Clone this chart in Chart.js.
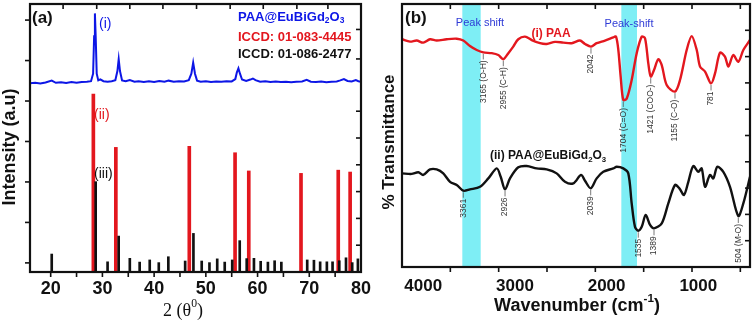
<!DOCTYPE html>
<html>
<head>
<meta charset="utf-8">
<script src="https://cdn.jsdelivr.net/npm/chart.js@4.4.1/dist/chart.umd.min.js"></script>
<style>
  html, body { margin: 0; padding: 0; background: #fff; }
  #wrap { position: relative; width: 753px; height: 323px; overflow: hidden; }
  #xrd { position: absolute; left: 0; top: 0; }
  #ftir { position: absolute; left: 378px; top: 0; }
</style>
</head>
<body>
<div id="wrap">
  <canvas id="xrd" width="378" height="323"></canvas>
  <canvas id="ftir" width="375" height="323"></canvas>
</div>
<script>
// ---- (a) XRD data ----
const xrdAngle = [16.0, 17.0, 18.0, 19.0, 20.2, 21.0, 22.0, 23.0, 24.0, 25.0, 26.0, 27.0, 27.8, 28.2, 28.4, 28.55, 28.7, 28.9,
  29.2, 29.6, 30.2, 31.0, 31.8, 32.5, 32.9, 33.15, 33.4, 33.8, 34.5, 35.3, 36.2, 37.0, 38.0, 39.0, 40.0, 41.0, 42.0, 42.8,
  43.8, 44.8, 45.8, 46.7, 47.2, 47.55, 47.9, 48.3, 49.0, 50.0, 51.0, 52.0, 53.0, 54.0, 55.0, 55.7, 56.0, 56.3, 56.6, 57.0,
  57.8, 58.6, 59.1, 59.6, 60.5, 61.5, 62.5, 63.5, 64.5, 65.5, 66.5, 67.5, 68.6, 69.5, 70.3, 71.3, 72.3, 73.3, 74.3, 75.3,
  76.0, 76.7, 77.4, 78.2, 79.0, 79.5, 80.0];
const xrdIntensity = [70.4, 70.6, 70.3, 70.7, 71.4, 70.6, 70.8, 70.5, 70.9, 70.6, 70.9, 71.0, 71.2, 74, 88, 96.5, 88, 74,
  71.5, 71.9, 71.2, 71.0, 71.2, 71.6, 75, 79.4, 75, 71.5, 71.2, 71.6, 71.0, 71.2, 70.9, 71.2, 70.9, 71.3, 71.0, 71.4,
  71.0, 71.2, 71.1, 71.6, 74, 78.1, 74, 71.4, 71.0, 71.2, 70.9, 71.1, 71.0, 71.2, 71.1, 72, 74.5, 76, 74, 71.8,
  71.3, 71.8, 72.2, 71.6, 71.0, 71.2, 70.9, 71.1, 70.9, 71.0, 70.8, 71.0, 71.1, 71.7, 71.0, 70.9, 71.1, 70.8, 71.0, 71.1,
  71.5, 72.0, 71.3, 71.1, 71.6, 71.2, 71.0];

// ICCD 01-083-4445 (red sticks)
const refRedAngle = [28.25, 32.6, 46.8, 55.65, 58.3, 68.4, 75.6, 77.9];
const refRedHeight = [66.4, 46.5, 46.9, 44.5, 37.7, 36.8, 38.0, 37.3];

// ICCD 01-086-2477 (black sticks)
const refBlackAngle = [20.2, 28.7, 31.0, 33.15, 35.3, 37.2, 39.15, 40.9, 42.75, 46.0, 47.6, 49.2, 50.7, 52.2, 53.65, 55.1,
  56.55, 57.9, 59.3, 60.6, 62.0, 63.3, 64.6, 69.6, 70.9, 72.1, 73.4, 74.5, 75.8, 77.1, 78.3, 79.4];
const refBlackHeight = [6.7, 33.7, 3.8, 13.4, 5.1, 3.7, 4.5, 3.5, 5.7, 4.1, 14.4, 4.1, 3.5, 4.9, 3.7, 4.5,
  11.7, 5.0, 5.1, 4.0, 3.7, 4.2, 3.7, 4.5, 4.4, 3.8, 3.8, 3.8, 4.2, 5.3, 3.5, 4.9];

const xrdTickLabels = [20, 30, 40, 50, 60, 70, 80];

// ---- (b) FTIR data ----
const paaWn = [4000, 3917, 3848, 3780, 3710, 3641, 3538, 3434, 3366, 3297, 3227, 3159, 3072, 3004, 2952, 2900, 2849, 2797,
  2728, 2658, 2572, 2503, 2417, 2331, 2244, 2159, 2107, 2045, 1986, 1900, 1814, 1786, 1762, 1738, 1711, 1675, 1624, 1572,
  1520, 1486, 1452, 1427, 1393, 1349, 1313, 1262, 1176, 1124, 1055, 1003, 951, 917, 865, 803, 762, 710, 659, 624, 573,
  521, 469, 400];
const paaT = [86.6, 85.7, 86.1, 85.3, 86.6, 86.1, 86.6, 86.8, 86.1, 84.0, 82.5, 81.6, 81.3, 80.6, 79.0, 81.3, 83.8, 86.6,
  87.6, 86.3, 85.1, 84.8, 85.6, 85.3, 85.1, 86.1, 84.8, 83.8, 85.1, 86.1, 87.3, 87.6, 82.5, 72.4, 63.5, 64.1, 71.1, 81.3,
  87.6, 87.0, 77.4, 72.4, 74.9, 79.0, 76.8, 69.2, 66.7, 71.1, 82.5, 87.8, 82.5, 76.2, 74.3, 69.8, 73.6, 81.5, 80.0, 76.2, 80.6,
  78.0, 82.5, 86.3];

const compWn = [4000, 3900, 3831, 3780, 3710, 3641, 3573, 3503, 3434, 3366, 3297, 3193, 3107, 3020, 2979, 2934, 2883, 2797,
  2710, 2607, 2503, 2400, 2314, 2228, 2148, 2107, 2048, 1986, 1918, 1814, 1779, 1711, 1659, 1624, 1590, 1556, 1520, 1479,
  1434, 1393, 1313, 1245, 1176, 1131, 1083, 1038, 987, 935, 900, 865, 814, 780, 738, 676, 607, 521, 469, 400];
const compT = [35.6, 35.4, 36.0, 35.0, 37.1, 37.1, 35.6, 32.4, 31.2, 29.0, 29.5, 30.5, 33.7, 37.5, 34.3, 29.5, 33.7, 37.9,
  38.4, 37.5, 37.1, 35.6, 32.4, 31.8, 35.0, 32.8, 29.9, 33.7, 36.2, 37.5, 38.1, 37.5, 35.6, 24.2, 15.3, 13.8, 15.3, 19.8,
  16.0, 14.7, 16.6, 24.2, 31.2, 29.9, 27.4, 32.4, 38.4, 36.2, 37.5, 30.5, 35.0, 33.7, 38.1, 36.2, 30.5, 19.4, 24.2, 34.3];

const paaMarkWn = [3165, 2955, 2042, 1704, 1421, 1155, 781];
const paaMarkText = ['3165 (O-H)', '2955 (C-H)', '2042', '1704 (C=O)', '1421 (COO-)', '1155 (C-O)', '781'];
const compMarkWn = [3361, 2926, 2039, 1535, 1389, 504];
const compMarkText = ['3361', '2926', '2039', '1535', '1389', '504 (M-O)'];

const shiftBandFrom = [3376, 1731];
const shiftBandTo = [3186, 1569];

const ftirTickLabels = [4000, 3000, 2000, 1000];

// ---- helpers ----
const SANS = "'Liberation Sans', Arial, sans-serif";
const SERIF = "'Liberation Serif', 'Times New Roman', serif";

function drawRich(ctx, segs, x, y, o) {
  const wt = o.weight || 'normal', fam = o.family || SANS, size = o.size;
  let total = 0;
  const parts = segs.map(s => {
    if (typeof s === 'string') s = { t: s };
    const sz = (s.sub || s.sup) ? size * 0.65 : size;
    ctx.font = wt + ' ' + sz + 'px ' + fam;
    const w = ctx.measureText(s.t).width;
    total += w;
    return { s, sz, w };
  });
  let cx = o.align === 'center' ? x - total / 2 : (o.align === 'right' ? x - total : x);
  ctx.fillStyle = o.color || '#111';
  ctx.textBaseline = 'middle';
  ctx.textAlign = 'left';
  parts.forEach(p => {
    ctx.font = wt + ' ' + p.sz + 'px ' + fam;
    const dy = p.s.sub ? size * 0.3 : (p.s.sup ? -size * 0.38 : 0);
    ctx.fillText(p.s.t, cx, y + dy);
    cx += p.w;
  });
}

function drawTexts(ctx, items) {
  items.forEach(it => {
    ctx.save();
    if (it.rotate) {
      ctx.translate(it.x, it.y);
      ctx.rotate(-Math.PI / 2);
      drawRich(ctx, it.segs, 0, 0, it);
    } else {
      drawRich(ctx, it.segs, it.x, it.y, it);
    }
    ctx.restore();
  });
}

// frame + tick marks drawn from the scales
const frameTicks = {
  id: 'frameTicks',
  afterDatasetsDraw(chart, args, opts) {
    const ctx = chart.ctx, a = chart.chartArea;
    ctx.save();
    ctx.strokeStyle = '#111';
    ctx.lineWidth = 1.6;
    (opts.marks || []).forEach(m => {
      const sc = chart.scales[m.axis];
      m.values.forEach(v => {
        const p = sc.getPixelForValue(v);
        ctx.beginPath();
        if (m.side === 'bottom') { ctx.moveTo(p, a.bottom); ctx.lineTo(p, a.bottom + m.len); }
        if (m.side === 'top') { ctx.moveTo(p, a.top); ctx.lineTo(p, a.top - m.len); }
        if (m.side === 'left') { ctx.moveTo(a.left, p); ctx.lineTo(a.left - m.len, p); }
        if (m.side === 'right') { ctx.moveTo(a.right, p); ctx.lineTo(a.right + m.len, p); }
        ctx.stroke();
      });
    });
    ctx.lineWidth = 2.2;
    ctx.strokeRect(a.left, a.top, a.right - a.left, a.bottom - a.top);
    ctx.restore();
  },
  afterDraw(chart, args, opts) {
    if (opts.texts) drawTexts(chart.ctx, opts.texts);
  }
};

// cyan "peak shift" bands
const bands = {
  id: 'bands',
  beforeDatasetsDraw(chart, args, opts) {
    if (!opts.from) return;
    const ctx = chart.ctx, a = chart.chartArea, sc = chart.scales[opts.axis];
    ctx.save();
    ctx.fillStyle = opts.color;
    opts.from.forEach((f, i) => {
      const x1 = sc.getPixelForValue(f), x2 = sc.getPixelForValue(opts.to[i]);
      ctx.fillRect(Math.min(x1, x2), a.top, Math.abs(x2 - x1), a.bottom - a.top);
    });
    ctx.restore();
  }
};

// peak labels with leader lines
const peakLabels = {
  id: 'peakLabels',
  afterDatasetsDraw(chart, args, opts) {
    if (!opts.sets) return;
    const ctx = chart.ctx;
    const xs = chart.scales.xd, ys = chart.scales.y;
    ctx.save();
    opts.sets.forEach(set => {
      const ds = chart.data.datasets[set.dataset].data;
      set.wn.forEach((w, i) => {
        let best = null;
        ds.forEach(p => {
          if (Math.abs(p.x - w) <= 35 && (best === null || p.y < best.y)) best = p;
        });
        if (!best) best = { x: w, y: 50 };
        const px = xs.getPixelForValue(best.x);
        const py = ys.getPixelForValue(best.y);
        const top = py + 7;
        ctx.strokeStyle = '#555';
        ctx.lineWidth = 0.8;
        ctx.beginPath();
        ctx.moveTo(px, py + 1.5);
        ctx.lineTo(px, top);
        ctx.stroke();
        ctx.save();
        ctx.translate(px, top + 1);
        ctx.rotate(-Math.PI / 2);
        ctx.font = '8.5px ' + SANS;
        ctx.fillStyle = '#333';
        ctx.textAlign = 'right';
        ctx.textBaseline = 'middle';
        ctx.fillText(set.text[i], 0, 0);
        ctx.restore();
      });
    });
    ctx.restore();
  }
};

const RED = '#e3171e';
const BLUE = '#0d16e6';

// ---- chart (a) ----
new Chart(document.getElementById('xrd'), {
  type: 'bar',
  data: {
    datasets: [
      {
        type: 'line',
        data: xrdAngle.map((a, i) => ({ x: a, y: xrdIntensity[i] })),
        borderColor: BLUE,
        borderWidth: 2,
        pointRadius: 0,
        tension: 0
      },
      {
        type: 'bar',
        data: refBlackAngle.map((a, i) => ({ x: a, y: refBlackHeight[i] })),
        backgroundColor: '#111',
        barThickness: 2,
        grouped: false
      },
      {
        type: 'bar',
        data: refRedAngle.map((a, i) => ({ x: a, y: refRedHeight[i] })),
        backgroundColor: RED,
        barThickness: 3,
        grouped: false
      }
    ]
  },
  options: {
    responsive: false,
    animation: false,
    layout: { padding: { top: 4, right: 17, left: 30, bottom: 0 } },
    plugins: {
      legend: { display: false },
      tooltip: { enabled: false },
      frameTicks: {
        marks: [
          { axis: 'x', side: 'bottom', len: 5, values: [20, 25, 30, 35, 40, 45, 50, 55, 60, 65, 70, 75] },
          { axis: 'x', side: 'top', len: -5, values: [22.4, 28.9, 35.3, 41.7, 48.2, 54.7, 61.1, 67.6, 73.6] },
          { axis: 'y', side: 'left', len: 5, values: [3.4, 18.5, 33.6, 48.7, 63.8, 78.9, 94.0] },
          { axis: 'y', side: 'right', len: -5, values: [10, 20, 30, 40, 50, 60, 79.5, 90.5] }
        ],
        texts: [
          { segs: ['(a)'], x: 32, y: 18, size: 17, weight: 'bold', color: '#111' },
          { segs: ['(i)'], x: 99, y: 24, size: 14, color: BLUE },
          { segs: ['(ii)'], x: 94, y: 115, size: 14, color: RED },
          { segs: ['(iii)'], x: 94, y: 174, size: 14, color: '#111' },
          { segs: ['PAA@EuBiGd', { t: '2', sub: true }, 'O', { t: '3', sub: true }], x: 238, y: 17, size: 13, weight: 'bold', color: BLUE },
          { segs: ['ICCD: 01-083-4445'], x: 238, y: 37.5, size: 13, weight: 'bold', color: RED },
          { segs: ['ICCD: 01-086-2477'], x: 238, y: 54, size: 13, weight: 'bold', color: '#111' },
          { segs: ['2 (\u03b8', { t: '0', sup: true }, ')'], x: 183, y: 311, size: 18, family: SERIF, align: 'center', color: '#111' },
          { segs: ['Intensity (a.u)'], x: 10, y: 147, size: 18, weight: 'bold', align: 'center', rotate: true, color: '#111' }
        ]
      }
    },
    scales: {
      x: {
        type: 'linear',
        min: 16,
        max: 80,
        offset: false,
        afterBuildTicks: s => { s.ticks = xrdTickLabels.map(v => ({ value: v })); },
        ticks: {
          callback: v => String(v),
          font: { family: SANS, size: 18, weight: 'bold' },
          color: '#111',
          padding: 6,
          maxRotation: 0,
          autoSkip: false
        },
        grid: { display: false, drawTicks: false, offset: false },
        border: { display: false },
        afterFit: s => { s.height = 51; }
      },
      y: { min: 0, max: 100, display: false }
    }
  },
  plugins: [frameTicks]
});

// ---- chart (b) ----
new Chart(document.getElementById('ftir'), {
  type: 'line',
  data: {
    datasets: [
      {
        data: paaWn.map((w, i) => ({ x: w, y: paaT[i] })),
        xAxisID: 'xd',
        yAxisID: 'y',
        borderColor: RED,
        borderWidth: 2.4,
        pointRadius: 0,
        tension: 0.3
      },
      {
        data: compWn.map((w, i) => ({ x: w, y: compT[i] })),
        xAxisID: 'xd',
        yAxisID: 'y',
        borderColor: '#111',
        borderWidth: 2.4,
        pointRadius: 0,
        tension: 0.3
      }
    ]
  },
  options: {
    responsive: false,
    animation: false,
    layout: { padding: { top: 4, right: 3, left: 24, bottom: 0 } },
    plugins: {
      legend: { display: false },
      tooltip: { enabled: false },
      bands: { axis: 'xd', from: shiftBandFrom, to: shiftBandTo, color: '#7eeef5' },
      peakLabels: {
        sets: [
          { dataset: 0, wn: paaMarkWn, text: paaMarkText },
          { dataset: 1, wn: compMarkWn, text: compMarkText }
        ]
      },
      frameTicks: {
        marks: [
          { axis: 'xd', side: 'bottom', len: 5, values: [3500, 3000, 2500, 2000, 1500, 1000, 500] },
          { axis: 'xd', side: 'top', len: -5, values: [3500, 3000, 2500, 2000, 1500, 1000, 500] },
          { axis: 'y', side: 'right', len: -5, values: [10, 20, 30, 40, 50, 60, 70, 80, 90] }
        ],
        texts: [
          { segs: ['(b)'], x: 27, y: 18, size: 17, weight: 'bold', color: '#111' },
          { segs: ['Peak shift'], x: 102, y: 23, size: 11, align: 'center', color: '#2f3bd6' },
          { segs: ['Peak-shift'], x: 251, y: 24, size: 11, align: 'center', color: '#2f3bd6' },
          { segs: ['(i) PAA'], x: 173, y: 34, size: 12, weight: 'bold', align: 'center', color: RED },
          { segs: ['(ii) PAA@EuBiGd', { t: '2', sub: true }, 'O', { t: '3', sub: true }], x: 112, y: 156, size: 12, weight: 'bold', color: '#111' },
          { segs: ['Wavenumber (cm', { t: '-1', sup: true }, ')'], x: 199, y: 306, size: 18, weight: 'bold', align: 'center', color: '#111' },
          { segs: ['% Transmittance'], x: 11, y: 142, size: 17, weight: 'bold', align: 'center', rotate: true, color: '#111' }
        ]
      }
    },
    scales: {
      x: {
        type: 'linear',
        position: 'bottom',
        min: 436,
        max: 4232,
        reverse: true,
        afterBuildTicks: s => { s.ticks = ftirTickLabels.map(v => ({ value: v })); },
        ticks: {
          callback: v => String(v),
          font: { family: SANS, size: 17, weight: 'bold' },
          color: '#111',
          padding: 9,
          maxRotation: 0,
          autoSkip: false
        },
        grid: { display: false, drawTicks: false },
        border: { display: false },
        afterFit: s => { s.height = 56; }
      },
      xd: { type: 'linear', min: 400, max: 4000, reverse: true, display: false },
      y: { min: 0, max: 100, display: false }
    }
  },
  plugins: [bands, peakLabels, frameTicks]
});
</script>
</body>
</html>
